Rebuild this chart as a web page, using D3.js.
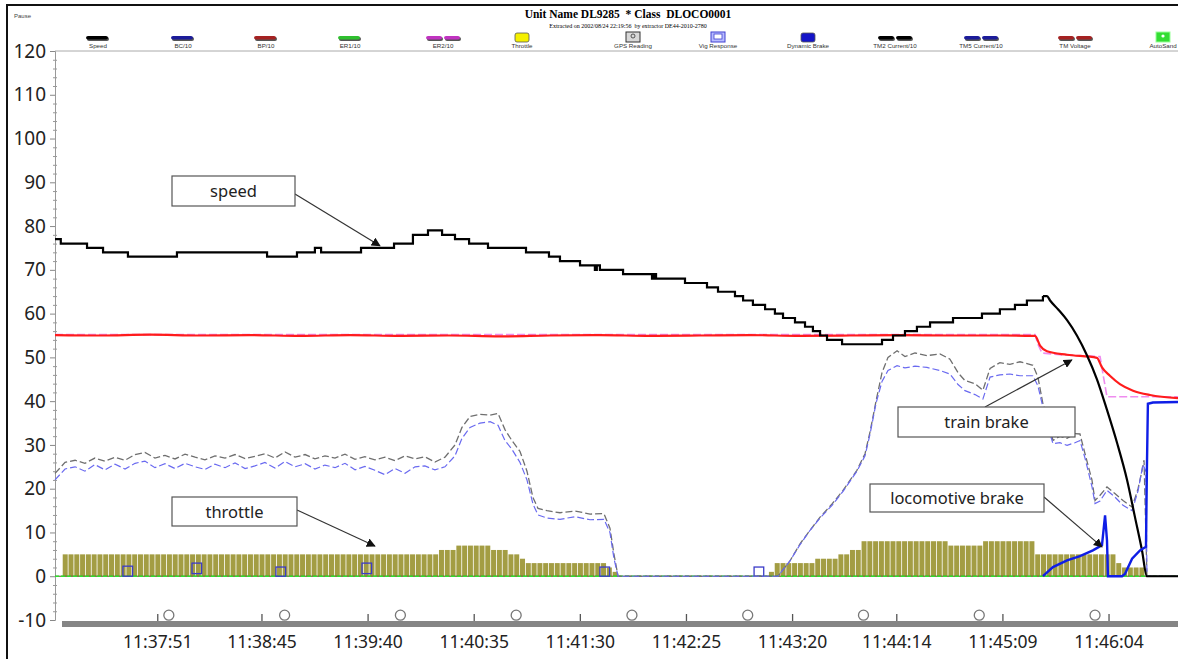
<!DOCTYPE html>
<html>
<head>
<meta charset="utf-8">
<script src="https://cdn.jsdelivr.net/npm/d3@7"></script>
<style>
  body { margin: 0; background: #fff; }
  svg { display: block; font-family: "Noto Sans", "Open Sans", sans-serif; }
</style>
</head>
<body>
<div id="chart"></div>
<script>
// ---- recorder data (elapsed seconds from log start, value) ----
const logStart = '11:36:58';
const logEnd = '11:46:40';
const tickLabels = ['11:37:51', '11:38:45', '11:39:40', '11:40:35', '11:41:30',
  '11:42:25', '11:43:20', '11:44:14', '11:45:09', '11:46:04'];

// speed, stepped while running
const speedSteps = [[0,77],[3,76],[16.6,75],[24.9,74],[37.8,73],[63.2,74],[109.9,73],[125.4,74],
  [134.7,75],[137.9,74],[158.6,75],[175.7,76],[185.5,78],[193.3,79],[200.6,78],[207.3,77],
  [214.6,76],[224.4,75],[244.1,74],[256,73],[261.7,72],[272.1,71],[279.8,70],[280.8,71],
  [282.4,70],[294.4,69],[309.4,68],[310.4,69],[311.5,68],[326.5,67],[337.9,66],[343.6,65],
  [352.4,64],[356.6,63],[361.7,62],[368,61],[373.1,60],[377.3,59],[383.5,58],[388.7,57],
  [392.8,56],[396.5,55],[400.1,54],[407.9,53],[428.6,54],[434.3,55],[440.5,56],[446.7,57],
  [453.5,58],[465.4,59],[480.4,60],[489.7,61],[497.5,62],[503.7,63],[512,64]];
// speed during the stop
const speedBraking = [[512,64],[514.1,64],[515.7,63],[519.8,61],[524.5,58.5],[529.6,55],
  [534.8,50.5],[540,45],[545.2,38],[550.4,30.5],[555.6,22],[559.7,13.5],[563.3,6],[565.9,0],[582,0]];

// brake pipe (BP/10)
const brakePipe = [[0,55.1],[23.3,55.0],[49.2,55.2],[75.1,55.0],[101.1,55.1],[127,54.9],[152.9,55.1],
  [178.8,54.9],[204.7,55.0],[230.6,54.8],[256.5,55.0],[282.4,55.1],[308.4,54.9],[334.3,55.0],
  [360.2,55.1],[386.1,54.9],[412,55.0],[437.9,55.1],[463.8,55.0],[489.7,55.0],[507.9,54.9],
  [510.5,52.7],[514.1,51.4],[524.5,50.6],[540,49.9],[542.6,47.7],[546.7,45.8],[551.9,43.9],
  [558.7,42.4],[567.5,41.4],[582,40.7]];
// equalising reservoir (ER2/10)
const eqRes = [[0,55.2],[507.9,55.2],[509.4,53],[511.5,51],[520.8,50.6],[541.6,50.2],
  [543.2,46],[545.2,41],[582,41]];

// traction motor currents /10
const tm2Current = [[0,23.5],[5.2,26],[10.4,26.5],[15.5,25.8],[20.7,27],[25.9,26.3],[31.1,27.2],
  [36.3,26.5],[41.5,27.8],[46.6,28.3],[51.8,27],[57,27.6],[62.2,26.8],[67.4,27.9],[72.6,27.2],
  [77.7,26.6],[82.9,27.5],[88.1,27],[93.3,27.8],[98.5,26.9],[103.6,27.4],[108.8,28],[114,27],
  [119.2,28.4],[124.4,27.2],[129.6,27.8],[134.7,26.8],[139.9,27.5],[145.1,27],[150.3,27.9],
  [155.5,26.7],[160.6,27.3],[165.8,26.6],[171,27.2],[176.2,26.4],[181.4,27.5],[186.6,26.8],
  [191.7,27.3],[196.9,26.1],[202.1,27.2],[207.3,30],[210.9,34],[215.1,36.5],[220.3,37],
  [225.5,36.8],[229.6,37.2],[233.2,33.5],[236.8,31],[241,28.5],[244.6,24],[247.7,18],
  [250.3,15.5],[255,15],[261.7,14.5],[269.5,14.9],[277.3,14.2],[284.5,14.3],[287.6,11],
  [289.7,5],[291.8,0],[374.7,0],[380.9,3.5],[386.1,7.4],[391.3,10.5],[396.5,13.5],[402.7,16.5],
  [408.4,19.6],[415.6,24.2],[419.8,28],[422.4,33],[425.5,40],[428.6,46.5],[431.7,50],[436.4,51.5],
  [440.5,50.2],[445.7,51],[451.9,50.4],[458.6,50.8],[463.8,49.6],[468,46.5],[471.6,44.7],
  [476.8,44],[480.9,42.5],[484.6,47.5],[489.7,48.8],[494.9,48.4],[500.1,49],[506.8,48.2],
  [509.4,45.5],[512,39.4],[515.7,34],[517.2,31],[520.8,32],[524.5,31.5],[528.6,32.6],[531.2,32.5],
  [533.8,28],[537.4,22],[539,17.3],[541.6,18.5],[545.2,20.4],[549.3,18.9],[553.5,17.3],
  [558.2,15.8],[561.3,20],[563.3,24],[564.4,26.5],[565.9,0],[582,0]];
const tm5Current = [[0,22],[5.2,24.5],[10.4,25],[15.5,24],[20.7,25.5],[25.9,24.3],[31.1,25.6],
  [36.3,24.5],[41.5,25.8],[46.6,26.3],[51.8,24.8],[57,25.7],[62.2,24.6],[67.4,25.8],[72.6,25],
  [77.7,24.4],[82.9,25.6],[88.1,24.8],[93.3,25.9],[98.5,24.6],[103.6,25.2],[108.8,26],[114,24.7],
  [119.2,26.2],[124.4,25],[129.6,25.7],[134.7,24.5],[139.9,25.4],[145.1,24.8],[150.3,25.8],
  [155.5,24.3],[160.6,25.1],[165.8,24.2],[171,23.2],[176.2,24.6],[181.4,23.5],[186.6,25],
  [191.7,25.2],[196.9,24.3],[202.1,25],[207.3,27.5],[210.9,31.5],[215.1,34],[220.3,35],
  [225.5,35.3],[229.6,34.5],[233.2,31],[236.8,29],[241,26],[244.6,22],[247.7,16.5],[250.3,14],
  [255,13.3],[261.7,13],[269.5,13.6],[277.3,12.9],[284.5,13],[287.6,10],[289.7,4],[291.8,0],
  [374.7,0],[380.9,3.5],[386.1,7.2],[391.3,10.5],[396.5,13.3],[402.7,16.2],[408.4,19.4],
  [415.6,24],[419.8,27.5],[422.4,32.5],[425.5,39.5],[428.6,44.5],[431.7,47],[436.4,48.1],
  [440.5,47.6],[445.7,48],[451.9,47.7],[458.6,47],[463.8,46.2],[468,43.8],[471.6,42.4],
  [476.8,41.5],[480.9,40.5],[484.6,45.5],[489.7,46],[494.9,46.2],[500.1,45.8],[506.8,45.8],
  [509.4,43.5],[512,38.6],[515.7,32.5],[517.2,30.3],[520.8,30.5],[524.5,29.9],[528.6,30.5],
  [531.2,31],[533.8,27],[537.4,20.5],[539,16.6],[541.6,17.2],[545.2,19.6],[549.3,18.1],
  [553.5,16.2],[558.2,15],[561.3,19.5],[563.8,25.5],[565.4,24],[565.9,0],[582,0]];

// locomotive brake cylinder (BC/10)
const brakeCyl = [[512,0],[517.2,2.1],[524.5,3.6],[531.2,4.6],[537.9,5.9],[542.6,7.1],[544.2,13.9],
  [545.2,8.2],[545.7,0],[553,0],[554.5,0.5],[558.2,4],[562.3,5.9],[565.4,6.7],[565.9,25],
  [566.4,39.4],[569,39.7],[582,39.8]];

// throttle notch, one sample every 3 s from 4 s
const throttleStart = 4;
const throttleStep = 3;
const throttle = [
  5,5,5,5,5,5,5,5,5,5, 5,5,5,5,5,5,5,5,5,5, 5,5,5,5,5,5,5,5,5,5, 5,5,5,5,5,5,5,5,5,5,
  5,5,5,5,5,5,5,5,5,5, 5,5,5,5,5,5,5,5,5,5, 5,5,5,5,5, 6,6,6, 7,7,7,7,7,7, 6,6,6, 5,5, 4,
  3,3,3,3,3,3,3,3,3,3,3,3,3,3, 2, 1,
  0,0,0,0,0,0,0,0,0,0, 0,0,0,0,0,0,0,0,0,0, 0,0,0,0,0,0, 1, 3,3,3,3,3,3,3, 4,4,4,4, 5,5, 6,6,
  8,8,8,8,8,8,8,8,8,8,8,8,8,8,8, 7,7,7,7,7,7, 8,8,8,8,8,8,8,8,8,
  5,5,5,5,5,5,5,5,5,5,5,5,5,5, 3, 2,2,2,2];

// vigilance responses and GPS readings
const vigSec = [35.2, 71, 114.5, 159.1, 282.4, 362.3];
const vigLow = [0, 0.6, 0, 0.6, 0, 0];
const vigHigh = [2.3, 3, 2.1, 3, 2.1, 2.1];
const gpsSec = [59, 119, 179, 239, 299, 359, 419, 479, 539];
const gpsLevel = -8.9;

// legend
const legendNames = ['Speed','BC/10','BP/10','ER1/10','ER2/10','Throttle','GPS Reading','Vig Response',
  'Dynamic Brake','TM2 Current/10','TM5 Current/10','TM Voltage','AutoSand'];
const legendColors = ['#000000','#1c1c9a','#a52222','#2fc02f','#c033c0','#f5f000','#d8d8d8','#b8bcff',
  '#1414c8','#000000','#1c1c9a','#a52222','#33dd33'];
const legendKinds = ['bar','bar','bar','bar','double','pill','gps','vig','pill','double','double','double','sand'];

// ---- layout ----
const width = 1178, height = 659;
const legendX = [98, 183, 266, 350, 443, 522, 633, 718, 808, 895, 981, 1075, 1163];

const svg = d3.select('#chart').append('svg')
  .attr('width', width).attr('height', height);

const parseT = d3.timeParse('%H:%M:%S');
const t0 = parseT(logStart);
const at = s => new Date(t0.getTime() + s * 1000);

const x = d3.scaleTime().domain([t0, parseT(logEnd)]).range([55, 1178]);
const y = d3.scaleLinear().domain([-10, 120]).range([620, 51]);

// frame
svg.append('line').attr('x1', 7).attr('x2', width).attr('y1', 5).attr('y2', 5)
  .attr('stroke', '#111').attr('stroke-width', 2);
svg.append('line').attr('x1', 7).attr('x2', 7).attr('y1', 4).attr('y2', height)
  .attr('stroke', '#111').attr('stroke-width', 2);

// header
svg.append('text').attr('x', 14).attr('y', 18).attr('font-size', 6).attr('fill', '#444')
  .attr('font-family', 'Liberation Sans, Arial').text('Pause');
svg.append('text').attr('x', 628).attr('y', 18).attr('text-anchor', 'middle')
  .attr('font-family', 'Liberation Serif, Times New Roman, serif').attr('font-weight', 'bold')
  .attr('font-size', 11.5).style('white-space', 'pre')
  .text('Unit Name DL9285  * Class  DLOCO0001');
svg.append('text').attr('x', 628).attr('y', 28).attr('text-anchor', 'middle')
  .attr('font-family', 'Liberation Serif, Times New Roman, serif').attr('font-size', 6)
  .style('white-space', 'pre')
  .text('Extracted on 2002/08/24 22:19:56  by extractor DE44-2010-2780');

const leg = svg.append('g').selectAll('g').data(legendNames).join('g')
  .attr('transform', (d, i) => `translate(${legendX[i]},0)`);
leg.append('text').attr('y', 48).attr('text-anchor', 'middle').attr('font-size', 6.2)
  .attr('font-family', 'Liberation Sans, Arial').attr('fill', '#333').text(d => d);
leg.each(function (d, i) {
  const g = d3.select(this), c = legendColors[i], k = legendKinds[i];
  if (k === 'bar') {
    g.append('rect').attr('x', -11).attr('y', 37).attr('width', 22).attr('height', 4).attr('rx', 2).attr('fill', '#555');
    g.append('rect').attr('x', -12).attr('y', 36).attr('width', 22).attr('height', 3.5).attr('rx', 2).attr('fill', c);
  } else if (k === 'double') {
    [-17, 1].forEach(dx => {
      g.append('rect').attr('x', dx + 1).attr('y', 37).attr('width', 16).attr('height', 4).attr('rx', 2).attr('fill', '#555');
      g.append('rect').attr('x', dx).attr('y', 36).attr('width', 16).attr('height', 3.5).attr('rx', 2).attr('fill', c);
    });
  } else if (k === 'pill') {
    g.append('rect').attr('x', -7).attr('y', 33).attr('width', 14).attr('height', 9).attr('rx', 2)
      .attr('fill', c).attr('stroke', '#555').attr('stroke-width', 0.8);
  } else if (k === 'gps') {
    g.append('rect').attr('x', -7).attr('y', 32).attr('width', 14).attr('height', 10)
      .attr('fill', c).attr('stroke', '#333').attr('stroke-width', 1);
    g.append('circle').attr('cy', 36).attr('r', 2).attr('fill', 'none').attr('stroke', '#333').attr('stroke-width', 0.8);
  } else if (k === 'vig') {
    g.append('rect').attr('x', -7).attr('y', 32).attr('width', 14).attr('height', 10)
      .attr('fill', c).attr('stroke', '#4040d0').attr('stroke-width', 1);
    g.append('rect').attr('x', -4).attr('y', 34).attr('width', 8).attr('height', 5)
      .attr('fill', '#fff').attr('stroke', '#4040d0').attr('stroke-width', 0.8);
  } else {
    g.append('rect').attr('x', -7).attr('y', 32).attr('width', 14).attr('height', 10)
      .attr('fill', c).attr('stroke', '#9f9').attr('stroke-width', 1);
    g.append('circle').attr('cy', 36).attr('r', 1.6).attr('fill', '#fff');
  }
});

// top rule of plot
svg.append('line').attr('x1', 55).attr('x2', width).attr('y1', y(120)).attr('y2', y(120))
  .attr('stroke', '#aaa').attr('stroke-width', 1);

// y axis
const yAxis = svg.append('g').attr('transform', 'translate(55,0)')
  .call(d3.axisLeft(y).tickValues(d3.range(-10, 121, 10)).tickSize(5).tickPadding(4)
    .tickFormat(d => String(d)));
yAxis.select('.domain').attr('stroke', '#999');
yAxis.selectAll('.tick line').attr('stroke', '#888');
yAxis.selectAll('.tick text').attr('font-size', 19).attr('fill', '#222')
  .attr('font-family', 'Noto Sans, Open Sans, sans-serif');
const yMinor = svg.append('g').attr('transform', 'translate(53,0)')
  .call(d3.axisRight(y).tickValues(d3.range(-10, 121, 2).filter(v => v % 10 !== 0)).tickSize(4).tickFormat(''));
yMinor.select('.domain').remove();
yMinor.selectAll('.tick line').attr('stroke', '#999');

// x axis: thick bar with upward ticks
svg.append('rect').attr('x', 62).attr('y', 621).attr('width', width - 62).attr('height', 6).attr('fill', '#858585');
const xAxis = svg.append('g').attr('transform', 'translate(0,621)')
  .call(d3.axisBottom(x).tickValues(tickLabels.map(parseT)).tickFormat(d3.timeFormat('%H:%M:%S'))
    .tickSize(-7).tickPadding(15));
xAxis.select('.domain').remove();
xAxis.selectAll('.tick line').attr('stroke', '#555').attr('stroke-width', 1.3);
xAxis.selectAll('.tick text').attr('font-size', 17.5).attr('fill', '#222')
  .attr('font-family', 'Noto Sans, Open Sans, sans-serif');

// throttle bars
const tx = i => x(at(throttleStart + i * throttleStep));
svg.append('g').selectAll('rect').data(throttle).join('rect')
  .attr('x', (d, i) => tx(i))
  .attr('width', (d, i) => tx(i + 1) - tx(i) - 0.8)
  .attr('y', d => y(d))
  .attr('height', d => y(0) - y(d))
  .attr('fill', '#a39d43');

// zero line (ER1/10)
svg.append('line').attr('x1', 55).attr('x2', width).attr('y1', y(0)).attr('y2', y(0))
  .attr('stroke', '#55551a').attr('stroke-width', 1);
svg.append('line').attr('x1', 55).attr('x2', width).attr('y1', y(0)).attr('y2', y(0))
  .attr('stroke', '#2fe02f').attr('stroke-width', 1.5).attr('stroke-dasharray', '4,2');

// vigilance markers
svg.append('g').selectAll('rect').data(vigSec).join('rect')
  .attr('x', d => x(at(d)))
  .attr('width', d => x(at(d + 5)) - x(at(d)))
  .attr('y', (d, i) => y(vigHigh[i]))
  .attr('height', (d, i) => y(vigLow[i]) - y(vigHigh[i]))
  .attr('fill', 'none').attr('stroke', '#3b3bc8').attr('stroke-width', 1.3);

const line = d3.line().x(d => x(at(d[0]))).y(d => y(d[1]));

svg.append('path').datum(tm2Current).attr('d', line).attr('fill', 'none')
  .attr('stroke', '#6f6f6f').attr('stroke-width', 1.3).attr('stroke-dasharray', '7,3');
svg.append('path').datum(tm5Current).attr('d', line).attr('fill', 'none')
  .attr('stroke', '#6a6af0').attr('stroke-width', 1.2).attr('stroke-dasharray', '7,3');
svg.append('path').datum(eqRes).attr('d', line).attr('fill', 'none')
  .attr('stroke', '#ef8cef').attr('stroke-width', 1.6).attr('stroke-dasharray', '8,3');
svg.append('path').datum(brakePipe).attr('d', line.curve(d3.curveMonotoneX)).attr('fill', 'none')
  .attr('stroke', '#ff1c1c').attr('stroke-width', 2.2);
svg.append('path').datum(speedSteps).attr('d', line.curve(d3.curveStepAfter)).attr('fill', 'none')
  .attr('stroke', '#000').attr('stroke-width', 2.2);
svg.append('path').datum(speedBraking).attr('d', line.curve(d3.curveMonotoneX)).attr('fill', 'none')
  .attr('stroke', '#000').attr('stroke-width', 2.2);
svg.append('path').datum(brakeCyl).attr('d', line.curve(d3.curveLinear)).attr('fill', 'none')
  .attr('stroke', '#0f1ee6').attr('stroke-width', 2.4);

// GPS readings
svg.append('g').selectAll('circle').data(gpsSec).join('circle')
  .attr('cx', d => x(at(d))).attr('cy', y(gpsLevel)).attr('r', 5)
  .attr('fill', '#fff').attr('stroke', '#777').attr('stroke-width', 1.3);

// annotations
svg.append('defs').append('marker').attr('id', 'arr')
  .attr('viewBox', '0 0 10 10').attr('refX', 9).attr('refY', 5)
  .attr('markerWidth', 9).attr('markerHeight', 9).attr('markerUnits', 'userSpaceOnUse')
  .attr('orient', 'auto')
  .append('path').attr('d', 'M0,0 L10,5 L0,10 z').attr('fill', '#111');

const notes = [
  { text: 'speed', box: [172, 176, 123, 30], from: [295, 194], to: [168.4, 75.5] },
  { text: 'throttle', box: [172, 497, 125, 29], from: [297, 510], to: [165.8, 6.9] },
  { text: 'train brake', box: [898, 407, 177, 30], from: [985, 407], to: [527, 49.4] },
  { text: 'locomotive brake', box: [870, 484, 174, 28], from: [1044, 497], to: [542.6, 6.7] }
];
notes.forEach(n => {
  svg.append('line').attr('x1', n.from[0]).attr('y1', n.from[1])
    .attr('x2', x(at(n.to[0]))).attr('y2', y(n.to[1]))
    .attr('stroke', '#333').attr('stroke-width', 1.2).attr('marker-end', 'url(#arr)');
  svg.append('rect').attr('x', n.box[0]).attr('y', n.box[1]).attr('width', n.box[2]).attr('height', n.box[3])
    .attr('fill', '#fff').attr('stroke', '#555').attr('stroke-width', 1.2);
  svg.append('text').attr('x', n.box[0] + n.box[2] / 2).attr('y', n.box[1] + n.box[3] / 2 + 6)
    .attr('text-anchor', 'middle').attr('font-size', 16.5).attr('fill', '#222').text(n.text);
});
</script>
</body>
</html>
